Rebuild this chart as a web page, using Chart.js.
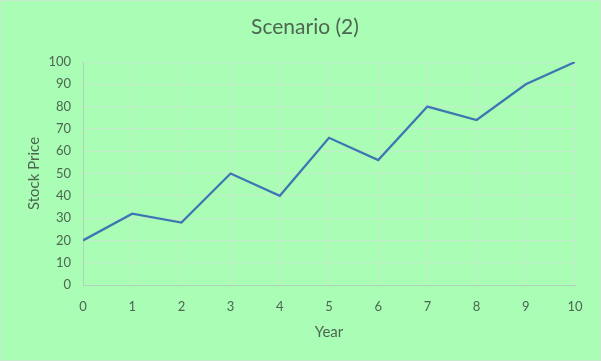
<!DOCTYPE html>
<html><head><meta charset="utf-8">
<script src="https://cdn.jsdelivr.net/npm/chart.js@4/dist/chart.umd.min.js"></script>
<style>html,body{margin:0;padding:0;background:#AAFDB4;}#wrap{width:601px;height:361px;}</style>
</head><body><div id="wrap"><canvas id="c" width="601" height="361"></canvas></div>
<script>
const years = [0,1,2,3,4,5,6,7,8,9,10];
const stockPrice = [20,32,28,50,40,66,56,80,74,90,100];
const yTicks = [0,10,20,30,40,50,60,70,80,90,100];
const chartTitle = 'Scenario (2)';
const txt = '#4d6652';
const grid = '#c6ecce';
const bgPlugin = {id:'bg',
  beforeDraw(ch){const c=ch.ctx;c.save();c.fillStyle='#AAFDB4';c.fillRect(0,0,ch.width,ch.height);c.strokeStyle='#c4e9cb';c.lineWidth=1;c.strokeRect(0.5,0.5,ch.width-1,ch.height-1);c.restore();},
  afterDraw(ch){const c=ch.ctx;c.save();c.fillStyle=txt;c.font='21px Lato';c.textAlign='center';c.textBaseline='middle';c.fillText(chartTitle,305,27);c.restore();}
};
new Chart(document.getElementById('c'), {
  type:'line',
  data:{datasets:[{data:years.map((x,i)=>({x:x,y:stockPrice[i]})),borderColor:'#3D76B3',borderWidth:2.25,pointRadius:0,tension:0,fill:false}]},
  options:{
    responsive:false, animation:false, devicePixelRatio:1,
    layout:{padding:{left:0,right:26,top:62,bottom:16}},
    plugins:{legend:{display:false},tooltip:{enabled:false},title:{display:false}},
    scales:{
      x:{type:'linear',min:0,max:10,
        afterBuildTicks(s){s.ticks=years.map(v=>({value:v}));},
        afterFit(s){s.height=60;},
        grid:{color:grid,drawTicks:false},border:{color:'#b3d2b8'},
        ticks:{color:txt,font:{family:'Lato',size:13},padding:14},
        title:{display:true,text:'Year',color:txt,font:{family:'Lato',size:15},padding:{top:3}}},
      y:{type:'linear',min:0,max:100,
        afterBuildTicks(s){s.ticks=yTicks.map(v=>({value:v}));},
        afterFit(s){s.width=83;},
        grid:{color:grid,drawTicks:false},border:{color:'#b3d2b8'},
        ticks:{color:txt,font:{family:'Lato',size:13},padding:12},
        title:{display:true,text:'Stock Price',color:txt,font:{family:'Lato',size:15},padding:{top:25,bottom:0}}}
    }
  },
  plugins:[bgPlugin]
});
</script></body></html>
